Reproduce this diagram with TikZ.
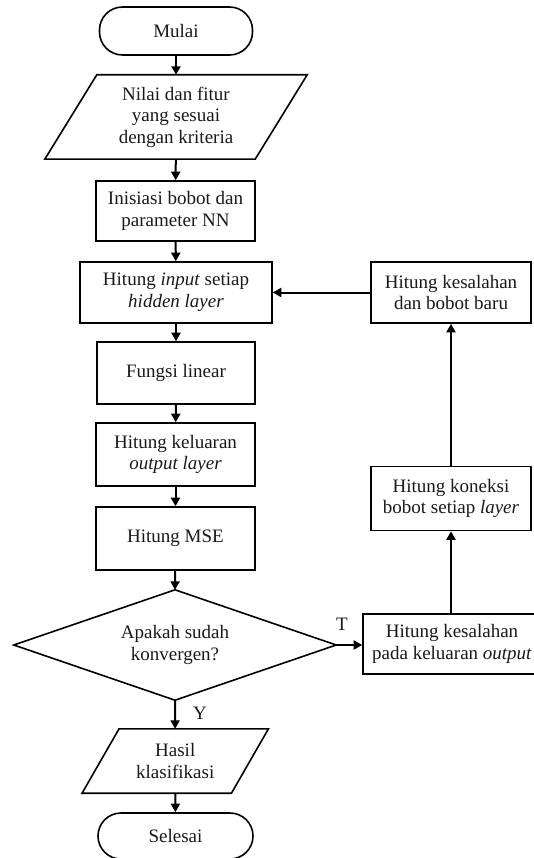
\documentclass[tikz,border=0pt]{standalone}
\usepackage{fontspec}
\setmainfont{Liberation Serif}
\usetikzlibrary{arrows.meta}

\tikzset{
  txt/.style={font=\fontsize{19}{21.5}\selectfont, align=center, inner sep=0pt, text=black!90},
  box/.style={txt, draw, line width=1.6pt},
  term/.style={txt, draw, line width=1.6pt, rounded corners=23pt},
  holder/.style={txt},
  outline/.style={draw, line width=1.6pt, line join=miter},
  flow/.style={line width=2pt, -{Triangle[length=8.5pt,width=9pt]}},
  lbl/.style={font=\fontsize{19}{21.5}\selectfont, inner sep=0pt, text=black!90}
}

\begin{document}
\begin{tikzpicture}[x=1pt,y=-1pt]
  \useasboundingbox (0,0) rectangle (534,858);

  % main column
  \node[term, minimum width=153pt, minimum height=48pt] (mulai) at (176,31) {Mulai};

  \node[holder, minimum width=210pt, minimum height=84pt] (data) at (176,117)
    {Nilai dan fitur\\yang sesuai\\dengan kriteria};
  \draw[outline] ([xshift=26pt]data.north west) -- ([xshift=26pt]data.north east)
    -- ([xshift=-26pt]data.south east) -- ([xshift=-26pt]data.south west) -- cycle;

  \node[box, minimum width=159pt, minimum height=60pt] (init) at (175.5,211)
    {Inisiasi bobot dan\\parameter NN};
  \node[box, minimum width=192pt, minimum height=61pt] (input) at (176,292.5)
    {Hitung \textit{input} setiap\\\textit{hidden layer}};
  \node[box, minimum width=158pt, minimum height=62pt] (fungsi) at (176,373)
    {Fungsi linear};
  \node[box, minimum width=159pt, minimum height=63pt] (keluaran) at (175.5,454.5)
    {Hitung keluaran\\\textit{output layer}};
  \node[box, minimum width=159pt, minimum height=63pt] (mse) at (175.5,538.5)
    {Hitung MSE};

  \node[holder, minimum width=322pt, minimum height=110pt] (dec) at (175,645)
    {Apakah sudah\\konvergen?};
  \draw[outline] (dec.north) -- (dec.east) -- (dec.south) -- (dec.west) -- cycle;

  \node[holder, minimum width=149pt, minimum height=64pt] (hasil) at (175.25,761)
    {Hasil\\klasifikasi};
  \draw[outline] ([xshift=18.5pt]hasil.north west) -- ([xshift=18.5pt]hasil.north east)
    -- ([xshift=-18.5pt]hasil.south east) -- ([xshift=-18.5pt]hasil.south west) -- cycle;

  \node[term, minimum width=155pt, minimum height=46pt] (selesai) at (175.5,836)
    {Selesai};

  % right column (weight update loop)
  \node[box, minimum width=178pt, minimum height=60pt] (errout) at (452,644)
    {Hitung kesalahan\\pada keluaran \textit{output}};
  \node[box, minimum width=160pt, minimum height=64pt] (koneksi) at (451,498.5)
    {Hitung koneksi\\bobot setiap \textit{layer}};
  \node[box, minimum width=160pt, minimum height=61pt] (errnew) at (451,292.5)
    {Hitung kesalahan\\dan bobot baru};

  % connectors
  \draw[flow] (mulai) -- (data);
  \draw[flow] (data) -- (init);
  \draw[flow] (init) -- (input);
  \draw[flow] (input) -- (fungsi);
  \draw[flow] (fungsi) -- (keluaran);
  \draw[flow] (keluaran) -- (mse);
  \draw[flow] (mse) -- (dec.north);
  \draw[flow] (dec.south) -- (hasil);
  \draw[flow] (hasil) -- (selesai);

  \draw[flow] (dec.east) -- (dec.east -| errout.west);
  \draw[flow] (errout.north -| koneksi.south) -- (koneksi.south);
  \draw[flow] (koneksi) -- (errnew);
  \draw[flow] (errnew.west) -- (errnew.west -| input.east);

  % branch labels
  \node[lbl] (lt) at (342,624) {T};
  \node[lbl] (ly) at (200,713) {Y};
\end{tikzpicture}
\end{document}
